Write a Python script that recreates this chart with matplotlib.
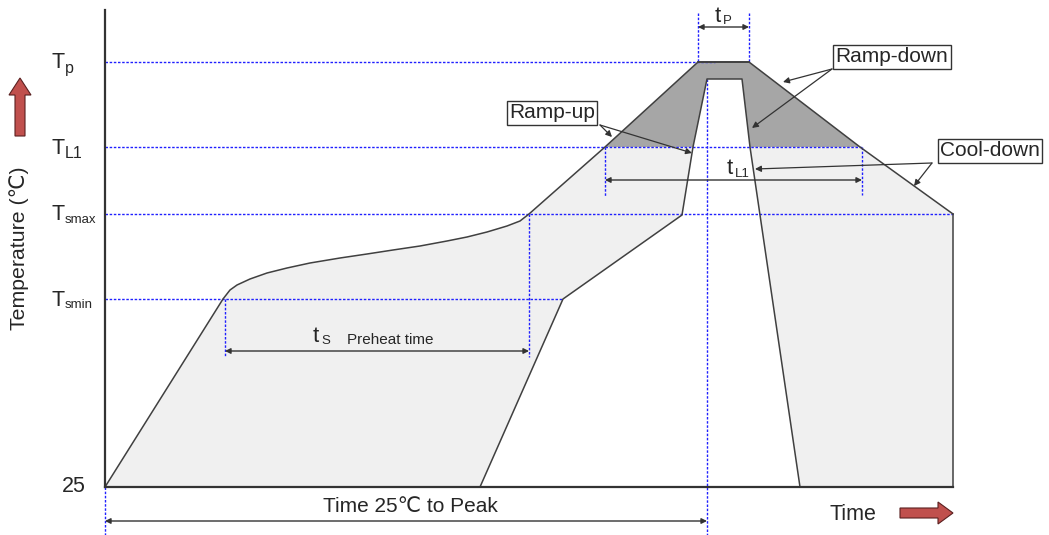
import matplotlib.pyplot as plt
from matplotlib.patches import Polygon, FancyArrow

plt.rcParams['font.family'] = ['Liberation Sans', 'DejaVu Sans']

# schematic coordinates (x = time position, y = temperature position, drawn downwards)
outer_x = [105, 223, 230, 237, 250, 267, 287, 310, 340, 367, 393, 420, 447, 467, 487, 507,
           520, 529, 605, 698, 749, 860, 953]
outer_y = [487, 299, 290, 285, 279, 273, 268, 263, 258, 254, 250, 246, 241, 237, 232, 226,
           221, 214, 147, 62, 62, 147, 214]
inner_x = [480, 563, 682, 693, 707, 742, 750, 800]
inner_y = [487, 299, 215, 147, 79, 79, 147, 487]
dark_x = [605, 698, 749, 860]
dark_y = [147, 62, 62, 147]

y_levels = [62, 147, 214, 299, 487]
y_main = ['T', 'T', 'T', 'T', '25']
y_sub = ['p', 'L1', 'smax', 'smin', '']
guide_end = [715, 862, 953, 563]

x0, x_end, y_base, y_top = 105, 953, 487, 10

fig = plt.figure(figsize=(10.49, 5.35), dpi=100)
ax = fig.add_axes([0, 0, 1, 1])
ax.set_xlim(0, 1049)
ax.set_ylim(535, 0)
ax.axis('off')

LIGHT = '#f0f0f0'
DARK = '#a6a6a6'
LINE = '#404040'
BLUE = '#2020ff'
RED = '#c0504d'
TXT = '#262626'

# fills
closed = list(zip(outer_x, outer_y)) + [(x_end, y_base), (x0, y_base)]
ax.add_patch(Polygon(closed, closed=True, fc=LIGHT, ec='none', zorder=1))
ax.add_patch(Polygon(list(zip(dark_x, dark_y)), closed=True, fc=DARK, ec='none', zorder=1.1))
ax.add_patch(Polygon(list(zip(inner_x, inner_y)), closed=True, fc='white', ec='none', zorder=1.2))

# guide lines
dots = dict(color=BLUE, lw=1.0, ls=(0, (1.8, 1.2)), zorder=2)
for yl, xe in zip(y_levels[:4], guide_end):
    ax.plot([x0, xe], [yl, yl], **dots)
for xv, ya, yb in [(698, 13, 62), (749, 13, 62), (707, 79, 535), (605, 147, 197),
                   (862, 147, 195), (225, 299, 357), (529, 214, 357), (105, 487, 535)]:
    ax.plot([xv, xv], [ya, yb], **dots)

# outlines
ax.plot(outer_x, outer_y, color=LINE, lw=1.1, zorder=3)
ax.plot(inner_x, inner_y, color=LINE, lw=1.1, zorder=3)
ax.plot([x_end, x_end], [outer_y[-1], y_base], color=LINE, lw=1.1, zorder=3)
ax.plot([698, 749], [62, 62], color=LINE, lw=1.3, zorder=3)
ax.plot([x0, x0], [y_top, y_base], color='#333333', lw=1.6, zorder=4)
ax.plot([x0, x_end], [y_base, y_base], color='#333333', lw=1.6, zorder=4)

# y labels
for yl, m, s in zip(y_levels, y_main, y_sub):
    if s:
        ax.text(52, yl + 1, m, fontsize=15.5, ha='left', va='center', color=TXT)
        ax.text(65, yl + 6, s, fontsize=11.5 if s in ('p', 'L1') else 9.5,
                ha='left', va='center', color=TXT)
    else:
        ax.text(86, yl, m, fontsize=15.5, ha='right', va='center', color=TXT)

ax.text(19, 248, 'Temperature (℃)', rotation=90, fontsize=15.3, ha='center', va='center',
        color=TXT)
ax.add_patch(FancyArrow(20, 136, 0, -58, width=10, head_width=22, head_length=17,
                        length_includes_head=True, fc=RED, ec='#5a2020', lw=0.8, zorder=5))
ax.text(853, 514, 'Time', fontsize=15.5, ha='center', va='center', color=TXT)
ax.add_patch(FancyArrow(900, 513, 53, 0, width=10, head_width=22, head_length=15,
                        length_includes_head=True, fc=RED, ec='#5a2020', lw=0.8, zorder=5))


def span(xa, xb, y):
    ax.annotate('', xy=(xa, y), xytext=(xb, y),
                arrowprops=dict(arrowstyle='<|-|>', color='#333333', lw=1.0,
                                mutation_scale=8, shrinkA=0, shrinkB=0), zorder=5)


span(698, 749, 27)
span(605, 862, 180)
span(225, 529, 351)
span(105, 707, 521)

ax.text(718, 17, 't', fontsize=16, ha='center', va='center', color=TXT)
ax.text(723, 21, 'P', fontsize=9.5, ha='left', va='center', color=TXT)
ax.text(730, 169, 't', fontsize=16, ha='center', va='center', color=TXT)
ax.text(735, 174, 'L1', fontsize=9.5, ha='left', va='center', color=TXT)
ax.text(316, 337, 't', fontsize=16, ha='center', va='center', color=TXT)
ax.text(321, 341, 'S', fontsize=9.5, ha='left', va='center', color=TXT)
ax.text(347, 340, 'Preheat time', fontsize=11, ha='left', va='center', color=TXT)
ax.text(410, 507, 'Time 25℃ to Peak', fontsize=15, ha='center', va='center', color=TXT)

# callout boxes
box = dict(boxstyle='square,pad=0.12', fc='white', ec='#333333', lw=1.0)
ax.text(552, 113, 'Ramp-up', fontsize=15, ha='center', va='center', bbox=box,
        color=TXT, zorder=6)
ax.text(892, 57, 'Ramp-down', fontsize=15, ha='center', va='center', bbox=box,
        color=TXT, zorder=6)
ax.text(990, 151, 'Cool-down', fontsize=15, ha='center', va='center', bbox=box,
        color=TXT, zorder=6)

pointer = dict(arrowstyle='-|>', color='#333333', lw=0.9, mutation_scale=9,
               shrinkA=0, shrinkB=0)
for start, targets in [((600, 125), [(612, 137), (692, 153)]),
                       ((832, 69), [(783, 82), (752, 128)]),
                       ((932, 163), [(914, 186), (755, 169)])]:
    for tgt in targets:
        ax.annotate('', xy=tgt, xytext=start, arrowprops=pointer, zorder=6)

fig.savefig('out.png', dpi=100)
